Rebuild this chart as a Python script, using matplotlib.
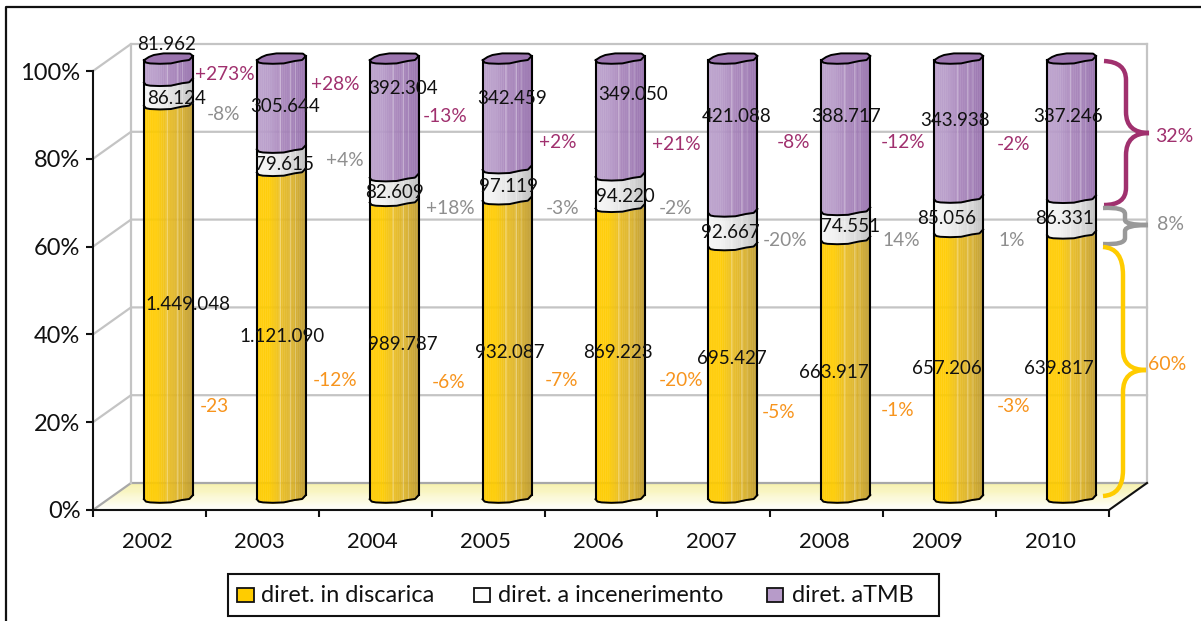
import numpy as np
import matplotlib
matplotlib.use("Agg")
import matplotlib.pyplot as plt
from matplotlib.patches import Polygon, PathPatch, Rectangle
from matplotlib.path import Path
from matplotlib.transforms import Affine2D
from matplotlib.colors import to_rgb

plt.rcParams['font.family'] = ['Lato', 'DejaVu Sans']

# ---------- data ----------
years = ['2002', '2003', '2004', '2005', '2006', '2007', '2008', '2009', '2010']
discarica = [1449048, 1121090, 989787, 932087, 869223, 695427, 663917, 657206, 639817]
incenerimento = [86124, 79615, 82609, 97119, 94220, 92667, 74551, 85056, 86331]
tmb = [81962, 305644, 392304, 342459, 349050, 421088, 388717, 343938, 337246]
series_names = ['diret. in discarica', 'diret. a incenerimento', 'diret. aTMB']
var_tmb = ['+273%', '+28%', '-13%', '+2%', '+21%', '-8%', '-12%', '-2%']
var_inc = ['-8%', '+4%', '+18%', '-3%', '-2%', '-20%', '14%', '1%']
var_dis = ['-23', '-12%', '-6%', '-7%', '-20%', '-5%', '-1%', '-3%']
shares_2010 = ['32%', '8%', '60%']
y_ticks = [0, 20, 40, 60, 80, 100]

# ---------- layout (pixels, origin top-left) ----------
W, H = 1201, 621
X0, X1, Y100, Y0 = 93, 1109, 71, 510
DEPTH_X, DEPTH_Y = 38, 27
lab_dis = [(188, 305), (282, 336), (403, 345), (510, 352), (618, 352), (732, 359), (834, 372), (947, 368), (1059, 368)]
lab_inc = [(177, 99), (284, 165), (394, 193), (508, 187), (625, 196), (730, 233), (851, 226), (947, 219), (1065, 219)]
lab_tmb = [(167, 44), (285, 107), (403, 89), (512, 98), (633, 94), (737, 116), (846, 117), (955, 121), (1068, 117)]
pos_var_tmb = [(225, 74), (335, 84), (445, 117), (558, 142), (676, 144), (793, 142), (903, 142), (1013, 144)]
pos_var_inc = [(223, 114), (345, 161), (450, 208), (563, 208), (676, 208), (785, 241), (901, 241), (1012, 240)]
pos_var_dis = [(214, 406), (335, 380), (449, 383), (561, 381), (681, 380), (779, 412), (898, 410), (1014, 406)]
pos_share = [(1174, 137), (1170, 224), (1167, 365)]
legend_box = (228, 574, 939, 616)
legend_squares = [(237, 254), (474, 490), (767, 783)]
legend_text_x = [261, 498, 792]

C_TMB, C_INC, C_DIS = '#A0306E', '#8E8E8E', '#F7941D'
C_BRACE_GRAY, C_BRACE_Y = '#999999', '#FFCC00'
GRID = '#C4C4C4'

fig = plt.figure(figsize=(W / 100, H / 100), dpi=100, facecolor='white')
ax = fig.add_axes([X0 / W, 1 - Y0 / H, (X1 - X0) / W, (Y0 - Y100) / H])
ax.set_xlim(-0.5, len(years) - 0.5)
ax.set_ylim(0, 100)
ax.patch.set_alpha(0)
px = Affine2D().scale(1, -1).translate(0, H)   # pixel coordinates

# ---------- frame ----------
fig.add_artist(plt.Line2D([6, 6, W], [H, 7, 7], transform=px, color='#111111', lw=1.6))

# ---------- walls, floor ----------
n = 24
for k in range(n):
    a, b = k / n, (k + 1) / n
    col = np.array(to_rgb('#F6F1A8')) * (1 - a) + np.array([1, 1, 1]) * a
    yb0, yb1 = Y0 - DEPTH_Y * (1 - a), Y0 - DEPTH_Y * (1 - b)
    xl0, xl1 = X0 + DEPTH_X * (1 - a), X0 + DEPTH_X * (1 - b)
    ax.add_patch(Polygon([(xl0, yb0), (xl0 + X1 - X0, yb0), (xl1 + X1 - X0, yb1), (xl1, yb1)],
                         closed=True, transform=px, fc=col, ec=col, lw=0.3, zorder=1, clip_on=False))
for t in y_ticks:
    yy = Y0 - (Y0 - Y100) * t / 100
    c = '#A8A8A8' if t == 0 else GRID
    ax.plot([X0, X0 + DEPTH_X, X1 + DEPTH_X], [yy, yy - DEPTH_Y, yy - DEPTH_Y], transform=px,
            color=c, lw=1.6, zorder=1.5, clip_on=False)
ax.plot([X0 + DEPTH_X] * 2, [Y0 - DEPTH_Y, Y100 - DEPTH_Y], transform=px, color=GRID, lw=1.6, zorder=1.5, clip_on=False)
ax.plot([X1 + DEPTH_X] * 2, [Y0 - DEPTH_Y, Y100 - DEPTH_Y], transform=px, color=GRID, lw=1.6, zorder=1.5, clip_on=False)
ax.plot([X1, X1 + DEPTH_X], [Y0, Y0 - DEPTH_Y], transform=px, color='#111111', lw=1.5, zorder=1.6, clip_on=False)

# ---------- axes ----------
for s in ['top', 'right']:
    ax.spines[s].set_visible(False)
for s in ['left', 'bottom']:
    ax.spines[s].set_linewidth(1.5)
    ax.spines[s].set_color('#111111')
    ax.spines[s].set_zorder(6)
ax.set_yticks(y_ticks)
ax.set_yticklabels([f'{t}%' for t in y_ticks], fontsize=17, color='#111111')
ax.set_xticks(np.arange(len(years) + 1) - 0.5)
ax.set_xticklabels([])
ax.tick_params(axis='both', length=5, width=1.5, color='#111111')
ax.tick_params(axis='y', pad=4)
for i, y in enumerate(years):
    ax.annotate(y, (i, 0), xytext=(-2.5, -32), textcoords='offset pixels', ha='center', va='center',
                fontsize=15.8, color='#111111', annotation_clip=False)

# ---------- cylinders ----------
PCT_PX = (Y0 - Y100) / 100
UNIT_PX = (X1 - X0) / len(years)
dx = (DEPTH_X / 2) / UNIT_PX
dy = (DEPTH_Y / 2 - 0.5) / PCT_PX
half = 24.5 / UNIT_PX
u = np.linspace(-1, 1, 73)
front = -np.interp(u, [-1, -0.92, -0.75, -0.35, 0.1, 0.32, 0.55, 0.85, 1],
                   [2.2, 4.6, 5.4, 5.8, 5.4, 4.2, 3.0, 2.0, -2.0]) / PCT_PX
back = np.interp(u, [-1, -0.8, -0.6, -0.2, 0.4, 0.88, 1],
                 [-2.2, 1.0, 3.0, 4.6, 4.6, 4.4, 2.0]) / PCT_PX
grads = [['#FFCC00', '#FFCC00', '#E9BC22', '#D9B02A', '#BD9A30'],
         ['#F6F6F6', '#F2F2F2', '#E4E4E4', '#D4D4D4', '#BDBDBD'],
         ['#BBA0CC', '#B79BC9', '#A986BC', '#A07CB5', '#9670AC']]
stripes = [0.47, 0.68, 0.79]
totals = np.array(discarica) + np.array(incenerimento) + np.array(tmb)
stack = np.array([discarica, incenerimento, tmb], float) / totals * 100

def shade(colors, t):
    pts = np.linspace(0, 1, len(colors))
    rgb = np.array([to_rgb(c) for c in colors])
    col = np.array([np.interp(t, pts, rgb[:, j]) for j in range(3)])
    if any(abs(t - s) < 0.012 for s in stripes):
        col = col + (1 - col) * 0.3
    return tuple(float(v) for v in col)

for i in range(len(years)):
    cx = i + dx
    xs = cx + half * u
    base = 0.0
    for s, cols in enumerate(grads):
        top = base + stack[s, i]
        for k in range(len(u) - 1):
            ax.fill_between(xs[k:k + 2], dy + base + front[k:k + 2], dy + top + front[k:k + 2],
                            color=shade(cols, k / (len(u) - 2)), lw=0.2, zorder=3, clip_on=False)
        ax.plot(xs, dy + base + front, color='black', lw=1.4, zorder=4, clip_on=False)
        base = top
    ax.add_patch(Polygon(np.r_[np.c_[xs, dy + 100 + front], np.c_[xs[::-1], dy + 100 + back[::-1]]],
                         closed=True, fc='#9B74AE', ec='black', lw=1.4, zorder=4, clip_on=False))
    for end in (0, -1):
        ax.plot([xs[end]] * 2, [dy + front[end], dy + 100 + front[end]], color='black',
                lw=1.5, zorder=4, clip_on=False)

# ---------- braces ----------
def brace(pts, color):
    codes = [Path.MOVETO] + [Path.CURVE3, Path.CURVE3, Path.LINETO] * 3 + [Path.CURVE3, Path.CURVE3]
    ax.add_patch(PathPatch(Path(pts, codes), transform=px, fc='none', ec=color, lw=3.2, zorder=5,
                           clip_on=False, capstyle='butt', joinstyle='miter'))

brace([(1104, 61), (1126, 62), (1126, 80), (1126, 112), (1126, 133), (1149, 133),
       (1149, 133), (1126, 133), (1126, 155), (1126, 188), (1126, 205), (1104, 205)], C_TMB)
brace([(1103, 208), (1125, 207), (1125, 214), (1125, 220), (1125, 225), (1148, 225),
       (1148, 225), (1125, 225), (1125, 231), (1125, 238), (1125, 245), (1103, 244)], C_BRACE_GRAY)
brace([(1103, 247), (1123, 248), (1123, 275), (1123, 350), (1123, 370), (1146, 370),
       (1146, 370), (1123, 370), (1123, 392), (1123, 470), (1123, 495), (1103, 496)], C_BRACE_Y)

# ---------- texts ----------
def put(s, xy, color, size):
    ax.text(xy[0], xy[1], s, transform=px, ha='center', va='center', color=color, fontsize=size,
            zorder=7, clip_on=False)

for vals, pos in ((discarica, lab_dis), (incenerimento, lab_inc), (tmb, lab_tmb)):
    for v, xy in zip(vals, pos):
        put(f'{v:,}'.replace(',', '.'), xy, '#111111', 13.5)
for vals, pos, col in ((var_tmb, pos_var_tmb, C_TMB), (var_inc, pos_var_inc, C_INC), (var_dis, pos_var_dis, C_DIS)):
    for v, xy in zip(vals, pos):
        put(v, xy, col, 13.8)
for v, xy, col in zip(shares_2010, pos_share, (C_TMB, C_INC, C_DIS)):
    put(v, xy, col, 14)

# ---------- legend ----------
x0, y0, x1, y1 = legend_box
ax.add_patch(Rectangle((x0, y0), x1 - x0, y1 - y0, transform=px, fc='white', ec='#111111', lw=1.5,
                       zorder=8, clip_on=False))
for (sa, sb), tx, name, col in zip(legend_squares, legend_text_x, series_names, ('#FFCC00', 'white', '#B79BC9')):
    ax.add_patch(Rectangle((sa, 588), sb - sa, 14, transform=px, fc=col, ec='#111111', lw=1.3,
                           zorder=9, clip_on=False))
    ax.text(tx, 595, name, transform=px, ha='left', va='center', fontsize=16.8, color='#111111',
            zorder=9, clip_on=False)

fig.savefig('out.png', dpi=100)
